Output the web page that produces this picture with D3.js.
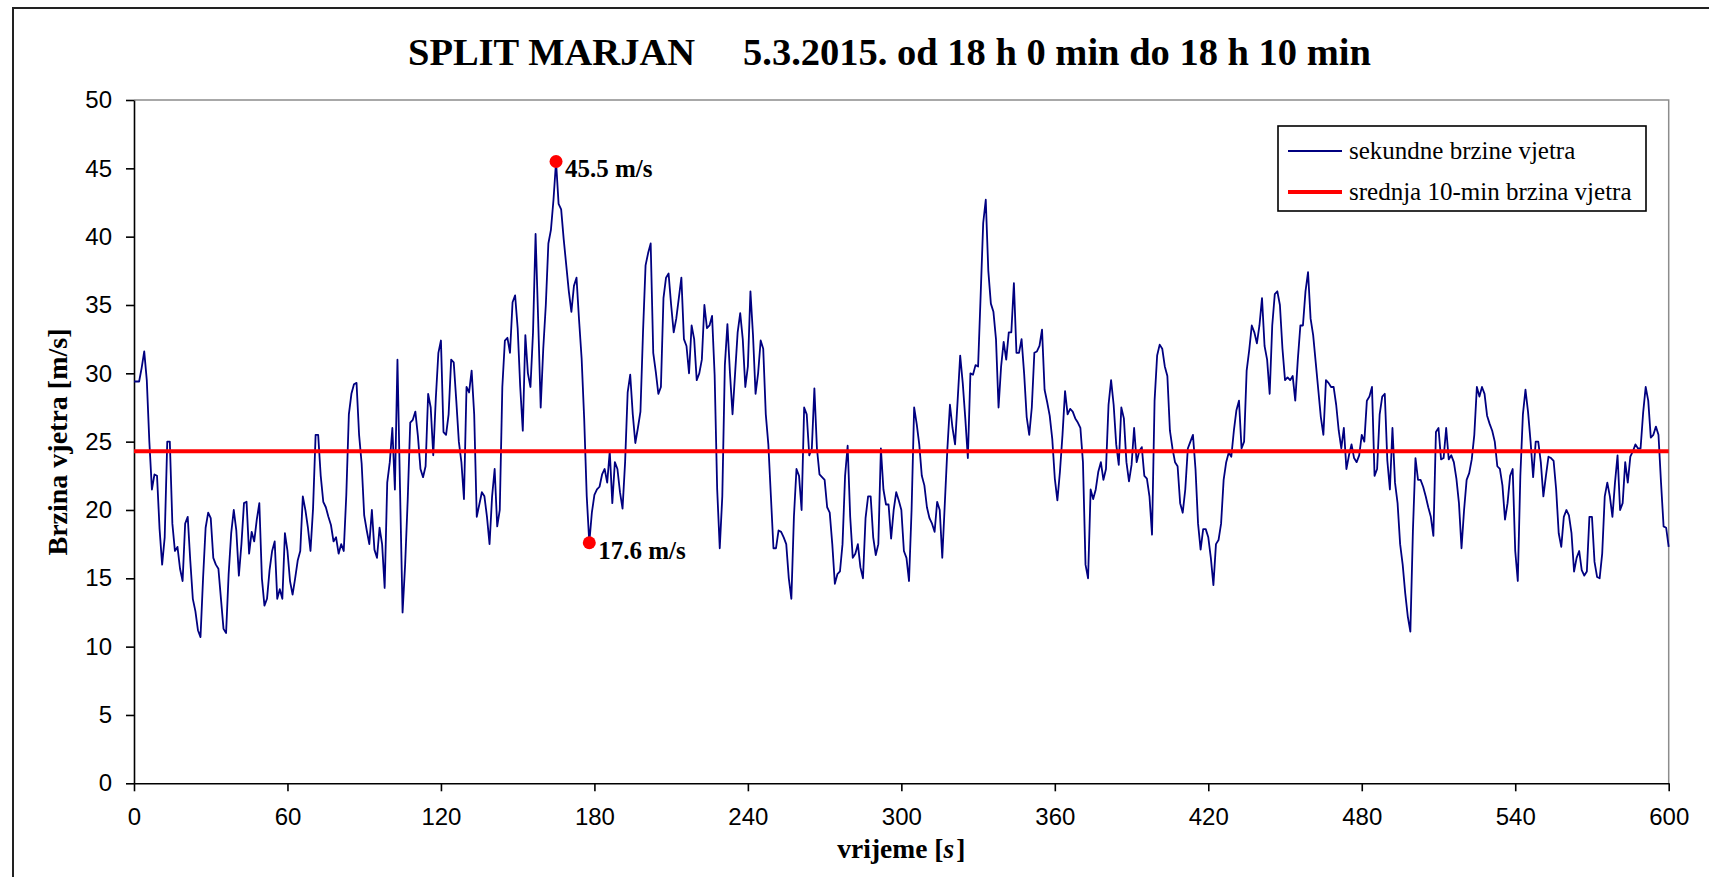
<!DOCTYPE html>
<html>
<head>
<meta charset="utf-8">
<script src="https://cdn.jsdelivr.net/npm/d3@7"></script>
<style>
  html, body { margin: 0; padding: 0; background: #fff; }
  svg { display: block; }
  .tick text { font-family: "Liberation Sans", Arial, sans-serif; font-size: 24px; fill: #000; }
  .serif { font-family: "Liberation Serif", "Times New Roman", serif; fill: #000; }
</style>
</head>
<body>
<div id="chart"></div>
<script>
// sekundne brzine vjetra, one value per second, 0..600 s
const windSpeed = [
  29.4, 29.4, 29.4, 30.4, 31.6, 29.5, 25, 21.5, 22.6, 22.5,
  18.6, 16, 18, 25, 25, 19, 17, 17.3, 15.7, 14.8,
  19, 19.5, 16.3, 13.5, 12.6, 11.2, 10.7, 15, 18.7, 19.8,
  19.4, 16.5, 16, 15.7, 13.5, 11.3, 11, 15.3, 18.3, 20,
  18.5, 15.2, 17.5, 20.5, 20.6, 16.8, 18.4, 17.7, 19.3, 20.5,
  15, 13, 13.5, 15.6, 17, 17.7, 13.5, 14.2, 13.5, 18.3,
  17, 14.8, 13.8, 15, 16.3, 17, 21, 20, 18.7, 17,
  20.1, 25.5, 25.5, 22.5, 20.6, 20.2, 19.5, 18.9, 17.7, 18,
  16.8, 17.5, 17, 21.1, 27, 28.5, 29.2, 29.3, 25.5, 23.4,
  19.6, 18.5, 17.5, 20, 17.1, 16.5, 18.7, 17.5, 14.3, 22,
  23.5, 26, 21.5, 31, 21.6, 12.5, 16, 20.7, 26.4, 26.6,
  27.2, 25.4, 23, 22.4, 23.2, 28.5, 27.5, 24, 28.2, 31.5,
  32.4, 25.7, 25.5, 27, 31, 30.8, 28, 25, 23.5, 20.8,
  29, 28.6, 30.2, 27, 19.5, 20.4, 21.3, 21, 19.5, 17.5,
  21, 23, 18.8, 20, 29, 32.4, 32.6, 31.5, 35.2, 35.7,
  33.3, 29, 25.8, 32.8, 30, 29, 33, 40.2, 34, 27.5,
  31.8, 35, 39.5, 40.5, 42.7, 45.5, 42.4, 42, 39.8, 37.9,
  36, 34.5, 36.4, 37, 33.9, 31.1, 26.7, 21, 17.6, 19.8,
  21.1, 21.5, 21.7, 22.6, 23, 22, 24.3, 20.5, 23.5, 23,
  21.3, 20.1, 23.5, 28.6, 29.9, 27, 24.9, 26, 27.2, 33,
  37.9, 38.8, 39.5, 31.5, 30.1, 28.5, 29, 35.5, 37, 37.3,
  35, 33, 34, 35.5, 37, 32.5, 32, 30, 33.5, 32.5,
  29.5, 30, 31, 35, 33.3, 33.5, 34.2, 29.9, 21.5, 17.2,
  21, 30.6, 33.6, 30, 27, 30, 33, 34.4, 32.5, 29,
  30.5, 36, 32.8, 28.5, 30, 32.4, 31.8, 27, 24.8, 21,
  17.2, 17.2, 18.5, 18.4, 18, 17.5, 15, 13.5, 19.5, 23,
  22.5, 20, 27.5, 27, 24, 24.5, 28.9, 24.5, 22.6, 22.4,
  22.2, 20.2, 19.8, 17.5, 14.6, 15.3, 15.5, 17.5, 22.5, 24.7,
  19.5, 16.5, 16.8, 17.5, 15.8, 15, 19.4, 21, 21, 18,
  16.7, 17.5, 24.5, 21.5, 20.4, 20.4, 17.9, 20, 21.3, 20.7,
  20, 17, 16.5, 14.8, 20, 27.5, 26.3, 24.8, 22.5, 21.8,
  20.2, 19.4, 19, 18.4, 20.6, 20, 16.5, 20.5, 24.5, 27.7,
  26, 24.8, 28, 31.3, 29.3, 26.7, 23.8, 30, 29.9, 30.6,
  30.5, 35.7, 41, 42.7, 37.5, 35.1, 34.5, 32.5, 27.5, 30.5,
  32.3, 31, 33, 33, 36.6, 31.5, 31.5, 32.5, 30, 26.8,
  25.5, 27.5, 31.5, 31.6, 32, 33.2, 28.8, 27.9, 26.9, 25.2,
  22.3, 20.7, 22.8, 25.5, 28.7, 27, 27.4, 27.2, 26.7, 26.4,
  26, 23.5, 16, 15, 21.5, 20.8, 21.5, 22.8, 23.5, 22.2,
  23, 27.7, 29.5, 27.7, 24.8, 23.3, 27.5, 26.7, 23.5, 22.1,
  23.3, 26, 23.5, 24.3, 24.6, 22.5, 22.3, 21, 18.2, 28,
  31.3, 32.1, 31.8, 30.5, 29.8, 25.8, 24.5, 23.5, 23.2, 20.5,
  19.8, 21.5, 24.5, 25, 25.5, 23, 19, 17.1, 18.6, 18.6,
  18, 16.5, 14.5, 17.5, 17.8, 19, 22.2, 23.5, 24.2, 23.9,
  25.8, 27.3, 28, 24.5, 25, 30.2, 31.7, 33.5, 33, 32.2,
  33.5, 35.5, 32, 31, 28.5, 33.5, 35.8, 36, 35, 31.8,
  29.5, 29.7, 29.5, 29.8, 28, 31, 33.5, 33.5, 36, 37.4,
  34, 32.8, 30.8, 28.8, 26.8, 25.5, 29.5, 29.3, 29, 29,
  27.7, 25.8, 24.5, 26, 23, 24, 24.8, 23.8, 23.5, 24,
  25.5, 25, 28, 28.3, 29, 22.5, 23, 27, 28.3, 28.5,
  23.6, 21.5, 26, 22, 20.5, 17.5, 16, 13.9, 12.2, 11.1,
  18.5, 23.8, 22.2, 22.2, 21.7, 21, 20.2, 19.5, 18.1, 25.7,
  26, 23.7, 23.8, 26, 23.7, 24, 23.5, 22.3, 20.5, 17.2,
  20, 22.2, 22.7, 23.7, 25.5, 29, 28.3, 29, 28.5, 26.9,
  26.3, 25.8, 25, 23.2, 23, 21.8, 19.3, 20.5, 22.5, 23,
  17, 14.8, 22.5, 27, 28.8, 27.2, 25, 22.4, 25, 25,
  23.5, 21, 22.5, 23.9, 23.8, 23.6, 21.5, 18.3, 17.3, 19.5,
  20, 19.6, 18.3, 15.5, 16.5, 17, 15.6, 15.2, 15.5, 19.5,
  19.5, 16.2, 15.1, 15, 16.8, 21, 22, 21, 19.5, 22,
  24, 20, 20.5, 23.5, 22, 23.9, 24.3, 24.8, 24.5, 24.5,
  27.1, 29, 28, 25.3, 25.5, 26.1, 25.5, 22, 18.8, 18.7,
  17.3
];
// srednja 10-min brzina vjetra
const meanSpeed = 24.3;
// marked extremes: second of the reading and its label
const extremeSeconds = [165, 178];
const extremeLabels = ["45.5 m/s", "17.6 m/s"];
const xTicks = [0, 60, 120, 180, 240, 300, 360, 420, 480, 540, 600];
const yTicks = [0, 5, 10, 15, 20, 25, 30, 35, 40, 45, 50];
const legendLabels = ["sekundne brzine vjetra", "srednja 10-min brzina vjetra"];
const legendColors = ["#000080", "#ff0000"];
const titleParts = ["SPLIT MARJAN", "5.3.2015. od 18 h 0 min do 18 h 10 min"];

const width = 1709, height = 877;
const plot = { left: 134, right: 1668.7, top: 100, bottom: 783.3 };

const svg = d3.select("#chart").append("svg").attr("width", width).attr("height", height);

// outer chart frame (only its left and top edges fall inside the picture)
svg.append("path")
    .attr("d", `M13,${height} V8 H${width}`)
    .attr("fill", "none").attr("stroke", "#222").attr("stroke-width", 2);

const x = d3.scaleLinear().domain([0, 600]).range([plot.left, plot.right]);
const y = d3.scaleLinear().domain([0, 50]).range([plot.bottom, plot.top]);

// plot area border (grey, top and right)
svg.append("path")
    .attr("d", `M${plot.left},${plot.top} H${plot.right} V${plot.bottom}`)
    .attr("fill", "none").attr("stroke", "#8c8c8c").attr("stroke-width", 1.5);

const yAxis = svg.append("g")
    .attr("transform", `translate(${plot.left},0)`)
    .call(d3.axisLeft(y).tickValues(yTicks).tickSize(8).tickSizeOuter(0).tickPadding(14));
const xAxis = svg.append("g")
    .attr("transform", `translate(0,${plot.bottom})`)
    .call(d3.axisBottom(x).tickValues(xTicks).tickSize(8).tickSizeOuter(0).tickPadding(17));
[yAxis, xAxis].forEach(g => {
    g.attr("font-family", null).attr("font-size", null);
    g.select(".domain").attr("stroke", "#000").attr("stroke-width", 1.6);
    g.selectAll(".tick line").attr("stroke", "#000").attr("stroke-width", 1.6);
});

// wind speed series
const line = d3.line().x((d, i) => x(i)).y(d => y(d));
svg.append("path")
    .datum(windSpeed)
    .attr("d", line)
    .attr("fill", "none")
    .attr("stroke", legendColors[0])
    .attr("stroke-width", 1.8)
    .attr("stroke-linejoin", "round");

// 10-min mean
svg.append("line")
    .attr("x1", x(0)).attr("x2", x(600))
    .attr("y1", y(meanSpeed)).attr("y2", y(meanSpeed))
    .attr("stroke", legendColors[1]).attr("stroke-width", 4);

// extremes
const marks = svg.append("g").selectAll("g").data(extremeSeconds).join("g")
    .attr("transform", d => `translate(${x(d)},${y(windSpeed[d])})`);
marks.append("circle").attr("r", 6.5).attr("fill", "#ff0000");
marks.append("text")
    .attr("class", "serif")
    .attr("x", 9).attr("y", 16)
    .attr("font-size", 25).attr("font-weight", "bold")
    .text((d, i) => extremeLabels[i]);

// title
svg.append("text").attr("class", "serif")
    .attr("x", 408).attr("y", 65)
    .attr("font-size", 38.5).attr("font-weight", "bold")
    .text(titleParts[0]);
svg.append("text").attr("class", "serif")
    .attr("x", 743).attr("y", 65)
    .attr("font-size", 38.5).attr("font-weight", "bold")
    .text(titleParts[1]);

// axis titles
svg.append("text").attr("class", "serif")
    .attr("transform", "translate(67,442) rotate(-90)")
    .attr("text-anchor", "middle")
    .attr("font-size", 28).attr("font-weight", "bold")
    .text("Brzina vjetra [m/s]");
const xTitle = svg.append("text").attr("class", "serif")
    .attr("x", (plot.left + plot.right) / 2).attr("y", 858)
    .attr("text-anchor", "middle")
    .attr("font-size", 27.5).attr("font-weight", "bold");
xTitle.append("tspan").text("vrijeme [");
xTitle.append("tspan").attr("font-style", "italic").text("s");
xTitle.append("tspan").attr("dx", 2).text("]");

// legend
const legend = svg.append("g").attr("transform", "translate(1278,126)");
legend.append("rect")
    .attr("width", 368).attr("height", 85)
    .attr("fill", "#fff").attr("stroke", "#000").attr("stroke-width", 1.6);
const items = legend.selectAll("g").data(legendLabels).join("g")
    .attr("transform", (d, i) => `translate(0,${25 + i * 41})`);
items.append("line")
    .attr("x1", 10).attr("x2", 64)
    .attr("stroke", (d, i) => legendColors[i])
    .attr("stroke-width", (d, i) => i === 0 ? 1.8 : 4);
items.append("text").attr("class", "serif")
    .attr("x", 71).attr("y", 8)
    .attr("font-size", 25)
    .text(d => d);
</script>
</body>
</html>
